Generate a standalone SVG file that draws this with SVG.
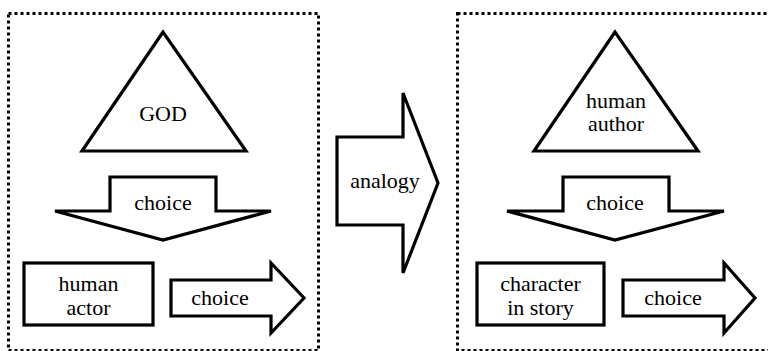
<svg xmlns="http://www.w3.org/2000/svg" width="768" height="351" viewBox="0 0 768 351">
<style>
.frame{fill:none;stroke:#000;stroke-width:3;stroke-dasharray:3 3}
.shape{fill:#fff;stroke:#000;stroke-width:3.2;stroke-linejoin:miter}
.t{font-family:"Liberation Serif","Times New Roman","DejaVu Serif",serif;font-size:22px;fill:#000;text-anchor:middle}
</style>
<rect width="768" height="351" fill="#fff"/>
<g id="left-frame"><rect class="frame" x="8.5" y="13.5" width="310" height="337"/></g>
<g id="right-frame"><rect class="frame" x="457.5" y="13.5" width="330" height="337"/></g>
<g id="god">
<polygon class="shape" points="163,32 82,151 246,151"/>
<text class="t" x="163" y="121">GOD</text>
</g>
<g id="human-actor">
<rect class="shape" x="24" y="263" width="129" height="62"/>
<text class="t" x="88.5" y="291">human</text>
<text class="t" x="88.5" y="315">actor</text>
</g>
<g id="human-author">
<polygon class="shape" points="615,32 534,151 698,151"/>
<text class="t" x="616" y="108">human</text>
<text class="t" x="616" y="131">author</text>
</g>
<g id="character">
<rect class="shape" x="477" y="263" width="127" height="62"/>
<text class="t" x="540.5" y="291">character</text>
<text class="t" x="540.5" y="315">in story</text>
</g>
<g id="connectors">
<g id="choice-down-left">
<polygon class="shape" points="110,177 216,177 216,211 271,211 163,240 55,211 110,211"/>
<text class="t" x="163" y="210">choice</text>
</g>
<g id="choice-right-left">
<polygon class="shape" points="171,280 271,280 271,263 304,298 271,333 271,316 171,316"/>
<text class="t" x="220" y="305">choice</text>
</g>
<g id="analogy">
<polygon class="shape" points="337,137 403,137 403,93 438,183 403,273 403,225 337,225"/>
<text class="t" x="385" y="188">analogy</text>
</g>
<g id="choice-down-right">
<polygon class="shape" points="563,177 669,177 669,211 724,211 615,240 507,211 563,211"/>
<text class="t" x="615" y="210">choice</text>
</g>
<g id="choice-right-right">
<polygon class="shape" points="623,280 724,280 724,263 755,298 724,333 724,316 623,316"/>
<text class="t" x="673" y="305">choice</text>
</g>
</g>
</svg>
